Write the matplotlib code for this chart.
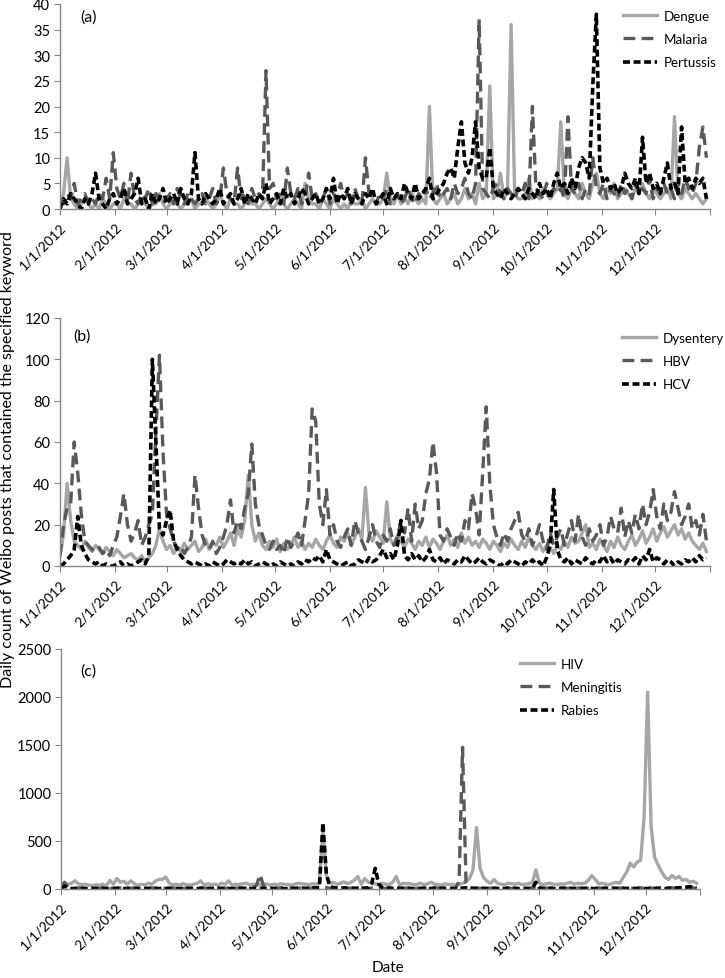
import numpy as np
import matplotlib
matplotlib.use('Agg')
import matplotlib.pyplot as plt

plt.rcParams['font.family'] = ['Lato', 'DejaVu Sans']
plt.rcParams['lines.scale_dashes'] = False

month_labels = ['1/1/2012', '2/1/2012', '3/1/2012', '4/1/2012', '5/1/2012', '6/1/2012',
                '7/1/2012', '8/1/2012', '9/1/2012', '10/1/2012', '11/1/2012', '12/1/2012']
month_days = [0, 31, 60, 91, 121, 152, 182, 213, 244, 274, 305, 335]
year_len = 366
step_days = 2  # one value every second day of 2012

# ---------------- panel (a) ----------------
dengue = [
    1, 3, 10, 2, 1, 0, 1, 2, 1, 0,
    1, 0, 2, 1, 0, 1, 1, 0, 2, 1,
    1, 0, 1, 2, 1, 0, 1, 1, 3, 1,
    0, 1, 2, 1, 0, 1, 1, 2, 0, 1,
    1, 2, 1, 0, 1, 3, 1, 0, 2, 1,
    1, 0, 1, 2, 1, 1, 0, 1, 2, 1,
    0, 1, 3, 1, 0, 1, 2, 1, 0, 5,
    2, 1, 1, 0, 2, 1, 0, 2, 1, 0,
    1, 0, 2, 1, 1, 2, 0, 1, 2, 1,
    1, 2, 7, 2, 1, 3, 1, 2, 1, 3,
    2, 1, 2, 1, 20, 2, 1, 2, 3, 1,
    2, 3, 1, 2, 4, 2, 3, 1, 5, 2,
    3, 24, 2, 3, 7, 2, 4, 36, 3, 2,
    2, 3, 6, 2, 3, 2, 4, 3, 2, 3,
    4, 17, 3, 2, 4, 3, 2, 5, 3, 2,
    5, 7, 3, 2, 4, 3, 5, 2, 3, 4,
    3, 2, 4, 3, 5, 3, 2, 4, 3, 2,
    3, 4, 2, 18, 3, 2, 4, 3, 2, 3,
    2, 1, 2]
malaria = [
    2, 1, 3, 2, 5, 1, 2, 3, 1, 2,
    1, 3, 2, 6, 2, 11, 4, 2, 5, 1,
    7, 2, 1, 3, 2, 4, 1, 3, 2, 1,
    2, 3, 1, 4, 2, 1, 3, 2, 1, 2,
    3, 1, 2, 4, 1, 2, 8, 3, 2, 1,
    8, 2, 3, 1, 4, 2, 3, 2, 27, 4,
    5, 2, 3, 1, 8, 3, 2, 4, 1, 2,
    7, 2, 3, 1, 2, 4, 1, 3, 2, 5,
    2, 3, 1, 4, 2, 1, 10, 3, 2, 1,
    3, 2, 4, 1, 2, 3, 1, 2, 4, 2,
    1, 3, 2, 4, 2, 3, 5, 2, 3, 4,
    2, 5, 3, 4, 6, 3, 2, 5, 37, 4,
    3, 2, 4, 5, 3, 2, 4, 3, 2, 4,
    3, 5, 2, 20, 4, 3, 2, 5, 3, 4,
    3, 4, 2, 18, 4, 3, 5, 2, 4, 3,
    10, 4, 3, 5, 2, 4, 3, 2, 5, 3,
    4, 2, 5, 3, 4, 3, 6, 2, 4, 3,
    5, 3, 4, 2, 5, 3, 6, 4, 3, 5,
    12, 16, 10]
pertussis = [
    0, 2, 1, 3, 2, 1, 0, 2, 1, 3,
    7, 2, 1, 0, 2, 3, 1, 2, 4, 1,
    2, 3, 6, 1, 2, 0, 3, 1, 2, 4,
    1, 2, 3, 1, 4, 2, 1, 3, 11, 2,
    1, 3, 2, 1, 2, 4, 1, 2, 3, 1,
    2, 4, 1, 3, 2, 1, 3, 2, 5, 1,
    2, 3, 1, 4, 2, 3, 1, 2, 4, 3,
    1, 2, 3, 1, 2, 4, 2, 6, 1, 3,
    2, 4, 1, 3, 2, 1, 3, 2, 4, 1,
    2, 3, 1, 4, 2, 3, 2, 5, 3, 2,
    5, 2, 3, 4, 6, 2, 3, 4, 5, 7,
    8, 6, 12, 17, 9, 7, 10, 17, 8, 6,
    6, 12, 4, 3, 2, 4, 3, 2, 3, 4,
    3, 2, 4, 3, 2, 5, 3, 4, 2, 5,
    7, 4, 5, 3, 6, 4, 8, 10, 9, 6,
    24, 38, 8, 5, 6, 4, 5, 3, 4, 7,
    5, 4, 6, 3, 14, 5, 7, 4, 5, 3,
    6, 9, 4, 5, 3, 16, 5, 6, 4, 6,
    5, 6, 2]

# ---------------- panel (b) ----------------
dysentery = [
    5, 15, 40, 22, 12, 10, 8, 12, 9, 7,
    10, 8, 6, 9, 7, 5, 8, 6, 4, 5,
    6, 4, 3, 5, 2, 4, 6, 10, 18, 12,
    8, 10, 6, 9, 7, 11, 8, 10, 12, 7,
    9, 13, 8, 11, 10, 14, 9, 12, 16, 10,
    18, 14, 22, 44, 20, 12, 16, 10, 8, 12,
    9, 13, 7, 11, 8, 10, 14, 9, 12, 8,
    11, 9, 13, 10, 8, 12, 15, 11, 9, 14,
    12, 16, 10, 14, 18, 13, 38, 15, 12, 17,
    14, 11, 31, 13, 10, 15, 12, 9, 13, 11,
    8, 12, 10, 14, 9, 13, 11, 8, 12, 15,
    10, 13, 9, 16, 11, 14, 10, 12, 9, 13,
    11, 8, 12, 10, 7, 11, 9, 13, 10, 8,
    12, 9, 14, 10, 8, 11, 7, 10, 9, 6,
    10, 8, 12, 9, 14, 11, 12, 16, 20, 9,
    11, 8, 13, 10, 7, 12, 9, 14, 10, 8,
    12, 15, 10, 13, 17, 11, 14, 18, 12, 16,
    19, 14, 17, 20, 15, 18, 13, 16, 12, 10,
    8, 11, 7]
hbv = [
    5, 20, 28, 30, 60, 45, 25, 12, 10, 8,
    7, 9, 6, 8, 5, 10, 14, 24, 35, 20,
    12, 16, 22, 10, 14, 20, 25, 65, 102, 55,
    25, 18, 12, 8, 10, 6, 9, 14, 44, 28,
    15, 10, 8, 12, 6, 9, 14, 20, 32, 16,
    22, 18, 28, 35, 59, 30, 20, 15, 10, 8,
    12, 8, 10, 6, 14, 9, 12, 16, 10, 22,
    35, 76, 70, 30, 20, 37, 15, 20, 12, 9,
    14, 18, 10, 22, 16, 12, 8, 14, 20, 12,
    9, 15, 12, 18, 10, 14, 22, 16, 28, 12,
    30, 18, 22, 35, 42, 60, 45, 15, 12, 18,
    14, 10, 16, 12, 22, 18, 35, 28, 15, 45,
    77, 40, 20, 14, 10, 16, 12, 18, 22, 26,
    15, 12, 18, 10, 14, 20, 12, 8, 16, 10,
    14, 18, 10, 16, 22, 12, 25, 14, 10, 18,
    12, 15, 20, 10, 14, 24, 18, 16, 28, 14,
    22, 16, 25, 18, 30, 20, 26, 37, 24, 18,
    30, 22, 26, 36, 28, 20, 24, 30, 18, 22,
    15, 25, 12]
hcv = [
    0, 1, 3, 5, 8, 24, 10, 6, 3, 2,
    1, 2, 0, 1, 0, 0, 1, 2, 0, 1,
    0, 1, 2, 3, 1, 5, 100, 60, 18, 15,
    22, 27, 12, 8, 5, 3, 2, 1, 2, 1,
    0, 1, 0, 2, 1, 0, 1, 3, 2, 1,
    2, 1, 3, 1, 2, 0, 1, 2, 1, 0,
    1, 0, 2, 1, 0, 1, 0, 2, 1, 3,
    2, 4, 3, 5, 2, 8, 3, 2, 1, 0,
    1, 2, 0, 1, 3, 2, 1, 4, 2, 3,
    5, 8, 4, 6, 3, 10, 22, 5, 3, 6,
    3, 5, 2, 4, 8, 3, 2, 4, 1, 3,
    2, 1, 3, 2, 5, 3, 1, 2, 4, 2,
    1, 3, 2, 1, 0, 2, 1, 3, 2, 1,
    0, 2, 1, 3, 1, 2, 0, 4, 10, 37,
    8, 3, 2, 4, 1, 3, 2, 1, 4, 2,
    1, 3, 2, 5, 2, 4, 1, 3, 2, 1,
    3, 2, 4, 1, 5, 3, 8, 2, 4, 3,
    1, 3, 2, 0, 2, 1, 3, 2, 4, 2,
    5, 3, 4]

# ---------------- panel (c) ----------------
hiv = [
    40, 45, 50, 60, 85, 55, 45, 50, 40, 35,
    45, 40, 50, 35, 90, 50, 110, 70, 80, 50,
    85, 55, 40, 50, 45, 60, 50, 80, 100, 100,
    125, 60, 45, 50, 40, 55, 45, 40, 50, 60,
    85, 40, 55, 45, 50, 40, 60, 50, 85, 40,
    50, 45, 55, 60, 45, 50, 40, 45, 55, 50,
    40, 50, 45, 55, 50, 45, 40, 50, 60, 55,
    50, 45, 55, 50, 60, 620, 140, 60, 70, 50,
    60, 75, 55, 70, 90, 130, 50, 110, 70, 60,
    55, 45, 60, 50, 45, 70, 130, 40, 60, 55,
    55, 45, 50, 60, 45, 55, 70, 50, 45, 40,
    55, 45, 50, 40, 50, 60, 80, 110, 200, 640,
    220, 120, 80, 60, 100, 60, 50, 45, 60, 55,
    50, 60, 45, 50, 55, 70, 200, 60, 45, 55,
    60, 50, 45, 55, 50, 60, 70, 50, 60, 55,
    60, 90, 140, 100, 55, 60, 50, 45, 60, 70,
    60, 120, 175, 270, 230, 280, 300, 750, 2050, 650,
    330, 250, 180, 120, 100, 140, 110, 130, 90, 100,
    70, 80, 60]
meningitis = [
    15, 70, 20, 10, 8, 12, 6, 10, 8, 5,
    10, 6, 12, 8, 5, 10, 7, 12, 6, 9,
    8, 12, 5, 10, 7, 9, 12, 6, 10, 8,
    5, 9, 12, 7, 10, 6, 8, 11, 5, 9,
    12, 7, 10, 5, 8, 12, 6, 9, 11, 7,
    10, 6, 12, 8, 5, 9, 40, 150, 30, 8,
    10, 6, 9, 12, 7, 5, 10, 8, 12, 6,
    9, 11, 7, 10, 12, 20, 15, 8, 10, 6,
    9, 12, 7, 10, 5, 8, 11, 9, 6, 10,
    12, 7, 9, 5, 10, 8, 12, 6, 9, 11,
    7, 10, 8, 5, 12, 9, 6, 10, 8, 11,
    7, 9, 12, 6, 80, 1475, 60, 10, 8, 12,
    6, 9, 11, 7, 10, 8, 5, 12, 9, 6,
    10, 8, 12, 7, 9, 11, 25, 8, 6, 10,
    9, 12, 7, 10, 8, 6, 11, 9, 12, 7,
    10, 8, 5, 9, 12, 7, 10, 6, 8, 11,
    9, 12, 7, 10, 8, 6, 12, 15, 20, 10,
    8, 11, 9, 6, 10, 12, 7, 9, 11, 8,
    10, 12, 9]
rabies = [
    5, 30, 10, 5, 3, 6, 8, 4, 5, 7,
    3, 5, 8, 4, 6, 3, 7, 5, 4, 6,
    5, 3, 7, 4, 6, 5, 3, 8, 4, 6,
    5, 7, 3, 6, 4, 5, 8, 3, 6, 4,
    7, 5, 3, 6, 8, 4, 5, 7, 3, 6,
    4, 8, 5, 3, 6, 4, 7, 5, 8, 3,
    6, 4, 5, 7, 3, 6, 8, 4, 5, 10,
    6, 8, 12, 10, 15, 690, 150, 30, 15, 10,
    8, 12, 6, 10, 7, 9, 5, 8, 12, 60,
    215, 50, 15, 8, 10, 6, 12, 7, 5, 9,
    6, 4, 8, 5, 7, 3, 6, 9, 4, 5,
    7, 5, 3, 6, 8, 10, 12, 5, 7, 4,
    6, 8, 5, 3, 7, 4, 6, 5, 8, 3,
    6, 4, 7, 5, 3, 8, 70, 12, 6, 4,
    7, 5, 3, 6, 8, 4, 5, 7, 3, 6,
    4, 8, 5, 3, 6, 4, 7, 5, 8, 3,
    6, 4, 5, 7, 3, 6, 8, 4, 5, 6,
    3, 7, 5, 4, 8, 6, 10, 12, 15, 20,
    25, 18, 10]

W, H = 725, 979
fig = plt.figure(figsize=(W / 100, H / 100), dpi=100)

styles = [
    dict(color='#A6A6A6', lw=2.4, linestyle='-'),
    dict(color='#595959', lw=2.4, linestyle=(0, (8.5, 4.5))),
    dict(color='#000000', lw=2.6, linestyle=(0, (5, 2.6))),
]
axis_col = '#868686'

panels = [
    dict(rect=(60, 5, 710, 210), names=['Dengue', 'Malaria', 'Pertussis'],
         data=[dengue, malaria, pertussis], ymax=40, ystep=5,
         leg=(623, 40), lab='(a)', labpos=(80, 18)),
    dict(rect=(60, 319, 710, 567), names=['Dysentery', 'HBV', 'HCV'],
         data=[dysentery, hbv, hcv], ymax=120, ystep=20,
         leg=(622, 362), lab='(b)', labpos=(73, 337)),
    dict(rect=(61, 650, 700, 890), names=['HIV', 'Meningitis', 'Rabies'],
         data=[hiv, meningitis, rabies], ymax=2500, ystep=500,
         leg=(520, 688), lab='(c)', labpos=(80, 672)),
]

leg_fs = 9.6
for p in panels:
    l, t, r, b = p['rect']
    ax = fig.add_axes([l / W, 1 - b / H, (r - l) / W, (b - t) / H])
    for vals, name, st in zip(p['data'], p['names'], styles):
        days = np.arange(len(vals)) * step_days
        ax.plot(days, vals, label=name, solid_joinstyle='round', **st)
    ax.set_xlim(0, year_len)
    ax.set_ylim(0, p['ymax'])
    ax.set_yticks(np.arange(0, p['ymax'] + 1, p['ystep']))
    ax.set_xticks(month_days + [year_len])
    ax.set_xticklabels(month_labels + [''], rotation=45, ha='right', va='top',
                       rotation_mode='anchor', fontsize=9.8)
    for s in ['top', 'right']:
        ax.spines[s].set_visible(False)
    for s in ['left', 'bottom']:
        ax.spines[s].set_color(axis_col)
        ax.spines[s].set_linewidth(1.0)
    ax.tick_params(axis='x', direction='out', length=4, color=axis_col, pad=4)
    ax.tick_params(axis='y', direction='out', length=4, color=axis_col, labelsize=10.5, pad=3)
    ax.legend(loc='center left', bbox_to_anchor=(p['leg'][0] / W, 1 - p['leg'][1] / H),
              bbox_transform=fig.transFigure, frameon=False, fontsize=leg_fs,
              handlelength=2.55, handletextpad=0.5, labelspacing=0.85,
              borderpad=0, borderaxespad=0)
    fig.text(p['labpos'][0] / W, 1 - p['labpos'][1] / H, p['lab'], fontsize=11.5,
             va='center', ha='left')

fig.text(8 / W, 1 - 460 / H, 'Daily count of Weibo posts that contained the specified keyword',
         rotation=90, va='center', ha='center', fontsize=11.5)
fig.text(388 / W, 1 - 968 / H, 'Date', ha='center', va='center', fontsize=11)

fig.savefig('out.png', dpi=100)
